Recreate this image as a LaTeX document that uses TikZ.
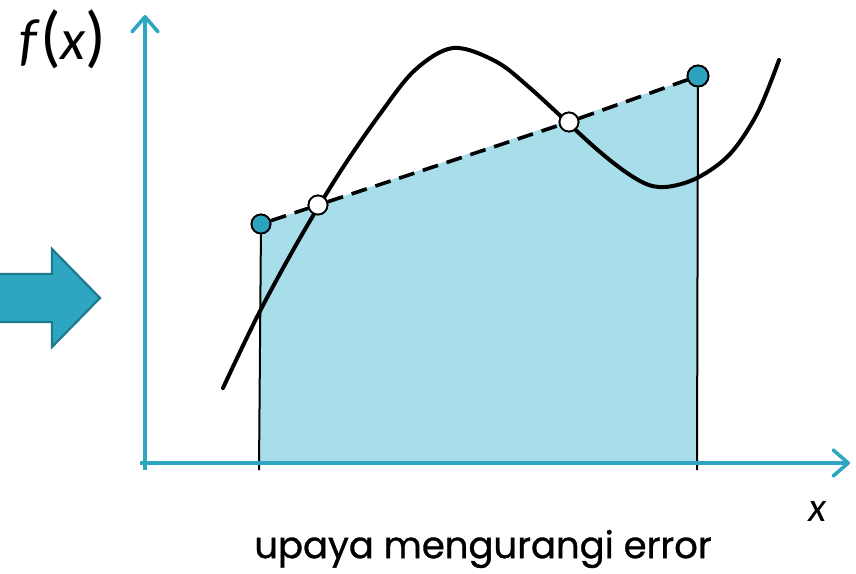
\documentclass[tikz,border=0pt]{standalone}
\usepackage{fontspec}
\setmainfont{Poppins}
\newfontfamily\calfont{Carlito}
\newfontfamily\capfont{Poppins}[FakeBold=0.9]
\usetikzlibrary{arrows.meta}
\definecolor{axisblue}{HTML}{2EA6C2}
\definecolor{areablue}{HTML}{A8DEEA}
\definecolor{edgeblue}{HTML}{1E7A8E}
\definecolor{dotblue}{HTML}{2CA3BF}

\begin{document}
\begin{tikzpicture}[
    x=1pt, y=-1pt,
    axis/.style={
        draw=axisblue,
        line width=3.6pt,
        -{Straight Barb[length=15pt,width=26pt,line cap=round,line join=round]}
    },
    endpt/.style={
        circle,
        draw,
        line width=1.8pt,
        fill=dotblue,
        minimum size=19pt,
        inner sep=0pt
    },
    crosspt/.style={endpt, fill=white},
    ordinate/.style={draw, line width=2pt},
    secant/.style={draw, line width=3.6pt, dash pattern=on 16pt off 9pt},
    curve/.style={draw, line width=4pt, line cap=round}
]
\useasboundingbox (0,0) rectangle (856,573);

% Shaded trapezoid below the secant
\fill[areablue] (259,463) -- (261,224) -- (698,76) -- (697,463) -- cycle;

% Block arrow on the left
\draw[fill=axisblue, draw=edgeblue, line width=2.2pt, line join=miter]
    (-5,274) -- (52,274) -- (52,249) -- (100,298) -- (52,347) -- (52,322) -- (-5,322) -- cycle;

% Base points on the x axis
\coordinate (a0) at (259,470);
\coordinate (b0) at (697,470);

% Points on the secant
\node[endpt]   (a)  at (261,224) {};
\node[endpt, minimum width=21pt]   (b)  at (698,76)  {};
\node[crosspt] (c1) at (318,205) {};
\node[crosspt] (c2) at (569,122) {};

% Ordinates
\draw[ordinate] (a0) -- (a);
\draw[ordinate] (b0) -- (b);

% Secant (dashed)
\draw[secant] (a) -- (c1);
\draw[secant] (c1) -- (c2);
\draw[secant] (c2) -- (b);

% Function curve
\draw[curve] plot[smooth, tension=0.55] coordinates {
    (223,388) (259,313) (300,238) (340,172) (380,114) (415,70) (453,48)
    (495,61) (530,88) (600,152) (640,181) (665,187) (697,178)
    (730,154) (758,112) (779,60)
};

% Redraw crossing points on top of the curve
\node[crosspt] at (c1) {};
\node[crosspt] at (c2) {};
\node[endpt] at (a) {};
\node[endpt, minimum width=21pt] at (b) {};

% Axes
\draw[axis] (145,470) -- (145,15);
\draw[axis] (140,463) -- (850,463);

% Labels
\node (fx)   at (63,39)  {\calfont\fontsize{58}{58}\selectfont\itshape f\/\upshape\fontsize{68}{68}\selectfont(\fontsize{58}{58}\selectfont\itshape x\upshape\fontsize{68}{68}\selectfont)};
\node (xlab) at (818,511) {\calfont\fontsize{42}{42}\selectfont\itshape x};
\node (cap)  at (483,549) {\capfont\fontsize{37}{37}\selectfont upaya mengurangi error};

\end{tikzpicture}
\end{document}
